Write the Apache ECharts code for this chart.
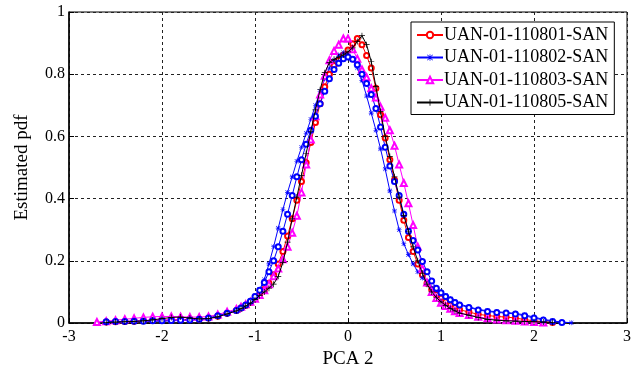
<!DOCTYPE html>
<html>
<head>
<meta charset="utf-8">
<script src="https://cdn.jsdelivr.net/npm/echarts@6/dist/echarts.min.js"></script>
<style>html,body{margin:0;padding:0;background:#fff}#c{width:637px;height:368px}</style>
</head>
<body>
<div id="c"></div>
<script>
// x positions (PCA 2)
const xs = [
  -2.7,-2.6,-2.5,-2.4,-2.3,-2.2,-2.1,-2.0,-1.9,-1.8,-1.7,-1.6,-1.5,-1.4,-1.3,
  -1.20,-1.15,-1.10,-1.05,-1.00,-0.95,-0.90,-0.85,-0.80,-0.75,-0.70,-0.65,-0.60,-0.55,-0.50,-0.45,-0.40,-0.35,-0.30,-0.25,-0.20,-0.15,-0.10,-0.05,
  0.00,
  0.05,0.10,0.15,0.20,0.25,0.30,0.35,0.40,0.45,0.50,0.55,0.60,0.65,0.70,0.75,0.80,0.85,0.90,0.95,1.00,1.05,1.10,1.15,1.20,
  1.3,1.4,1.5,1.6,1.7,1.8,1.9,2.0,2.1,2.2,2.3,2.4
];
const names = ['UAN-01-110801-SAN','UAN-01-110802-SAN','UAN-01-110803-SAN','UAN-01-110805-SAN'];
const xTicks = [-3,-2,-1,0,1,2,3];
const yTicks = [0,0.2,0.4,0.6,0.8,1];

const y110801 = [
  null,0.003,0.004,0.005,0.006,0.007,0.008,0.009,0.010,0.011,0.012,0.013,0.016,0.022,0.031,
  0.040,0.048,0.056,0.066,0.078,0.092,0.108,0.128,0.155,0.190,0.230,0.280,0.335,0.395,0.455,0.515,0.580,0.645,0.705,0.760,0.800,0.828,0.845,0.862,
  0.878,
  0.898,0.915,0.895,0.860,0.820,0.755,0.670,0.595,0.525,0.460,0.395,0.330,0.275,0.230,0.190,0.155,0.128,0.108,0.092,0.080,0.068,0.058,0.050,0.043,
  0.035,0.028,0.024,0.021,0.019,0.016,0.011,0.007,0.004,0.002,null,null
];
const y110802 = [
  null,0.003,0.004,0.004,0.005,0.005,0.006,0.006,0.007,0.008,0.009,0.011,0.015,0.022,0.032,
  0.042,0.050,0.060,0.072,0.088,0.108,0.140,0.190,0.245,0.305,0.365,0.420,0.470,0.520,0.565,0.610,0.655,0.700,0.745,0.785,0.820,0.845,0.862,0.870,
  0.865,
  0.850,0.820,0.780,0.730,0.675,0.620,0.560,0.495,0.425,0.360,0.300,0.255,0.220,0.190,0.165,0.145,0.128,0.115,0.105,0.097,0.088,0.078,0.069,0.061,
  0.052,0.044,0.039,0.036,0.034,0.031,0.026,0.019,0.012,0.007,0.003,0.001
];
const y110803 = [
  0.003,0.006,0.009,0.012,0.015,0.018,0.020,0.021,0.021,0.020,0.019,0.019,0.021,0.027,0.036,
  0.045,0.052,0.060,0.068,0.078,0.090,0.105,0.125,0.150,0.175,0.205,0.245,0.290,0.345,0.420,0.510,0.590,0.665,0.735,0.795,0.845,0.875,0.895,0.915,
  0.915,
  0.880,0.850,0.815,0.790,0.755,0.725,0.695,0.660,0.620,0.570,0.510,0.450,0.385,0.315,0.245,0.175,0.130,0.100,0.080,0.065,0.055,0.046,0.038,0.032,
  0.026,0.020,0.015,0.011,0.009,0.007,0.005,0.003,0.002,null,null,null
];
const y110805 = [
  null,0.002,0.003,0.004,0.005,0.007,0.010,0.014,0.018,0.019,0.016,0.013,0.014,0.020,0.029,
  0.039,0.046,0.055,0.064,0.075,0.088,0.100,0.112,0.125,0.150,0.195,0.260,0.335,0.405,0.475,0.545,0.615,0.685,0.750,0.805,0.838,0.848,0.855,0.862,
  0.872,
  0.885,0.905,0.924,0.895,0.840,0.760,0.680,0.600,0.535,0.470,0.405,0.345,0.295,0.245,0.200,0.160,0.125,0.100,0.082,0.068,0.057,0.047,0.039,0.032,
  0.025,0.018,0.012,0.009,0.007,0.006,0.005,0.004,0.003,0.002,null,null
];
// fifth curve (blue circles), not listed in the legend
const yExtra = [
  null,0.004,0.005,0.005,0.006,0.006,0.007,0.007,0.008,0.009,0.010,0.012,0.016,0.023,0.031,
  0.040,0.048,0.058,0.070,0.085,0.105,0.130,0.165,0.200,0.245,0.295,0.350,0.410,0.470,0.525,0.575,0.620,0.665,0.705,0.745,0.785,0.815,0.835,0.850,
  0.855,
  0.848,0.830,0.800,0.770,0.735,0.690,0.630,0.565,0.505,0.455,0.410,0.350,0.295,0.265,0.235,0.198,0.165,0.135,0.112,0.097,0.085,0.075,0.066,0.058,
  0.050,0.042,0.037,0.034,0.032,0.029,0.023,0.016,0.010,0.005,0.002,null
];

function pts(ys){ const out=[]; xs.forEach((x,i)=>{ if(ys[i]!==null) out.push([x,ys[i]]); }); return out; }

const plusPath = 'path://M4.4,0H5.6V4.4H10V5.6H5.6V10H4.4V5.6H0V4.4H4.4Z';
const starPath = 'path://M4.4,0H5.6V4.4H10V5.6H5.6V10H4.4V5.6H0V4.4H4.4Z M1.2,0.4L9.6,8.8L8.8,9.6L0.4,1.2Z M8.8,0.4L9.6,1.2L1.2,9.6L0.4,8.8Z';
const FONT = 'Liberation Serif';

function ser(name, ys, color, symbol, size, filled, z){
  return {
    name: name, type: 'line', data: pts(ys), smooth: false,
    symbol: symbol, symbolSize: size, showSymbol: true,
    lineStyle: { color: color, width: 1 },
    itemStyle: filled ? { color: color, borderWidth: 0 } : { color: color, borderColor: color, borderWidth: 1 },
    emphasis: { disabled: true }, animation: false, z: z
  };
}

const chart = echarts.init(document.getElementById('c'), null, {renderer:'canvas'});
chart.setOption({
  backgroundColor: '#fff',
  animation: false,
  grid: { left: 69, right: 10, top: 12, bottom: 45, outerBoundsMode: 'none', containLabel: false,
    show: true, borderColor: '#000', borderWidth: 1, backgroundColor: 'transparent' },
  legend: {
    data: names, orient: 'vertical', left: 411, top: 22,
    backgroundColor: '#fff', borderColor: '#000', borderWidth: 1, borderRadius: 0,
    padding: [4, 6, 3, 5], itemGap: 4.5, itemWidth: 26, itemHeight: 8,
    textStyle: { fontFamily: FONT, fontSize: 18, color: '#000', lineHeight: 18, padding: [0,0,0,-4] },
    selectedMode: false, z: 10
  },
  xAxis: {
    type: 'value', min: -3, max: 3, interval: 1,
    name: 'PCA 2', nameLocation: 'middle', nameGap: 24,
    nameTextStyle: { fontFamily: FONT, fontSize: 19, color: '#000' },
    axisLine: { show: true, onZero: false, lineStyle: { color: '#000', width: 1.5 } },
    axisTick: { show: true, inside: true, length: 5, lineStyle: { color: '#000' } },
    axisLabel: { fontFamily: FONT, fontSize: 16, color: '#000', margin: 6, formatter: v => xTicks.includes(v) ? String(v) : '' },
    splitLine: { show: true, lineStyle: { color: '#222', type: [3, 3], width: 1 } }
  },
  yAxis: {
    type: 'value', min: 0, max: 1, interval: 0.2,
    name: 'Estimated pdf', nameLocation: 'middle', nameGap: 37, nameRotate: 90,
    nameTextStyle: { fontFamily: FONT, fontSize: 19, color: '#000' },
    axisLine: { show: true, onZero: false, lineStyle: { color: '#000', width: 1.5 } },
    axisTick: { show: true, inside: true, length: 5, lineStyle: { color: '#000' } },
    axisLabel: { fontFamily: FONT, fontSize: 16, color: '#000', margin: 4,
      formatter: v => { const t = yTicks.find(k => Math.abs(k - v) < 1e-9); return t === undefined ? '' : String(t); } },
    splitLine: { show: true, lineStyle: { color: '#222', type: [3, 3], width: 1 } }
  },
  series: [
    ser(names[0], y110801, '#ff0000', 'emptyCircle', 5, false, 3),
    ser(names[1], y110802, '#0000ff', starPath, 5, true, 3),
    ser(names[2], y110803, '#ff00ff', 'emptyTriangle', 6, false, 3),
    ser(names[3], y110805, '#000000', plusPath, 6, true, 4),
    ser('extra', yExtra, '#0000ff', 'emptyCircle', 5, false, 3)
  ]
});
</script>
</body>
</html>
